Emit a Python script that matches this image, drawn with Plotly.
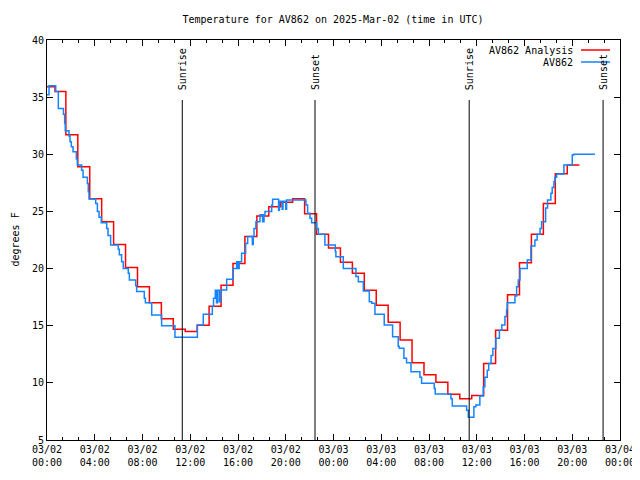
import pandas as pd
import plotly.graph_objects as go

# ---- data (hours after 2025-03-02 00:00 UTC, temperature degF) ----
start = "2025-03-02 00:00"
end = "2025-03-04 00:00"

red_hours = [0, 0.67, 1.58, 2.58, 3.58, 4.58, 5.58, 6.58, 7.58, 8.58, 9.58, 10.58,
             11.58, 12.58, 13.58, 14.58, 15.58, 16.58, 17.58, 18.58, 19.58, 20.58,
             21.58, 22.58, 23.58, 24.58, 25.58, 26.58, 27.58, 28.58, 29.58, 30.58,
             31.58, 32.58, 33.58, 34.58, 35.58, 36.58, 37.58, 38.58, 39.58, 40.58,
             41.58, 42.58, 43.58, 44.6]
red_temps = [35.9, 35.5, 31.7, 28.9, 26.1, 24.1, 22.1, 20.1, 18.4, 17.0, 15.6, 14.7,
             14.5, 15.05, 16.7, 18.55, 20.45, 22.8, 24.6, 25.4, 25.8, 26.1,
             24.8, 23.0, 21.8, 20.55, 19.6, 18.1, 16.8, 15.3, 13.75, 11.75,
             10.7, 10.05, 9.0, 8.6, 8.9, 11.7, 14.6, 17.7, 20.5, 23.0,
             25.7, 28.3, 29.06, 29.06]

blue_hours = [0.0, 0.17, 0.73, 0.95, 1.38, 1.48, 1.53, 1.84, 1.93, 2.04, 2.18, 2.46,
              2.54, 2.9, 3.02, 3.38, 3.46, 3.52, 4.08, 4.22, 4.36, 4.55, 5.0, 5.11,
              5.33, 5.97, 6.06, 6.17, 6.25, 6.39, 6.81, 6.9, 7.43, 7.51, 8.15, 8.24,
              8.77, 9.6, 10.72, 12.6, 13.09, 13.85, 13.95, 14.1, 14.2, 14.3, 14.45,
              14.55, 15.05, 15.6, 15.89, 15.98, 16.1, 16.3, 16.64, 16.81, 17.2, 17.28,
              17.34, 17.5, 17.84, 18.06, 18.18, 18.26, 18.82, 18.9, 19.4, 19.47, 19.7,
              19.77, 20.0, 20.07, 21.69, 21.83, 22.03, 22.17, 22.59, 22.73, 23.28,
              24.15, 24.2, 24.82, 25.88, 26.08, 26.5, 27.0, 27.2, 27.47, 28.25, 28.95,
              29.42, 29.5, 29.9, 30.12, 30.49, 31.24, 31.38, 32.44, 32.52, 33.84,
              33.95, 35.15, 35.29, 35.76, 35.93, 36.26, 36.54, 36.68, 36.88, 37.0,
              37.2, 37.35, 37.6, 37.9, 38.1, 38.36, 38.5, 38.55, 39.2, 39.34, 39.48,
              39.62, 40.23, 40.54, 40.87, 41.06, 41.3, 41.43, 41.77, 41.93, 42.21,
              42.32, 42.46, 42.55, 42.69, 43.3, 44.0, 44.14, 45.9]
blue_temps = [35.2, 36.0, 35.5, 34.0, 33.5, 32.7, 32.06, 31.6, 31.1, 30.67, 30.23, 29.58,
              29.06, 28.6, 28.0, 27.45, 26.73, 26.08, 25.7, 25.0, 24.5, 24.0, 23.5, 22.9,
              22.06, 21.7, 21.2, 21.2, 20.6, 20.0, 19.6, 19.0, 18.5, 18.0, 17.4, 17.0,
              15.94, 15.0, 14.0, 15.06, 16.0, 16.7, 17.4, 18.1, 17.0, 18.1, 17.1,
              18.12, 19.06, 20.0, 20.6, 20.0, 20.6, 21.34, 22.2, 22.8, 22.1, 22.8,
              23.5, 24.1, 24.7, 24.1, 24.7, 25.0, 25.56, 26.06, 25.1, 25.9, 25.2,
              25.9, 25.2, 26.0, 25.56, 24.83, 24.4, 24.0, 23.5, 23.0, 22.06,
              21.5, 21.04, 20.0, 19.3, 18.85, 18.04, 17.1, 16.96, 16.0, 15.06, 14.04,
              13.2, 13.02, 12.15, 11.77, 10.98, 10.5, 9.96, 9.5, 9.03, 8.6,
              7.98, 7.6, 7.0, 7.9, 8.06, 8.85, 9.66, 10.5, 11.1, 11.7,
              12.4, 13.0, 13.9, 14.6, 15.06, 15.8, 16.4, 17.0, 17.6, 18.4, 19.0,
              20.0, 20.75, 21.97, 22.5, 23.0, 23.5, 24.1, 25.3, 26.0, 26.6,
              27.1, 27.6, 28.0, 28.27, 29.06, 29.94, 30.0, 30.0]

sun_labels = ["Sunrise", "Sunset", "Sunrise", "Sunset"]
sun_times = ["2025-03-02 11:20", "2025-03-02 22:27", "2025-03-03 11:22", "2025-03-03 22:35"]

series_names = ["AV862 Analysis", "AV862"]
series_colors = ["#ff0000", "#1484ff"]

title_text = "Temperature for AV862 on 2025-Mar-02 (time in UTC)"
y_label = "degrees F"

# ---- build ----
base = pd.Timestamp(start)
red_x = base + pd.to_timedelta(red_hours, unit="h")
blue_x = base + pd.to_timedelta(blue_hours, unit="h")

FONT = "DejaVu Sans Mono"
fig = go.Figure()
fig.add_trace(go.Scatter(x=red_x, y=red_temps, mode="lines", line_shape="hv",
                         line=dict(color=series_colors[0], width=1.5),
                         name=series_names[0], showlegend=False))
fig.add_trace(go.Scatter(x=blue_x, y=blue_temps, mode="lines", line_shape="hv",
                         line=dict(color=series_colors[1], width=1.5),
                         name=series_names[1], showlegend=False))

shapes = []
annotations = []
for lab, t in zip(sun_labels, sun_times):
    shapes.append(dict(type="line", xref="x", yref="paper", x0=t, x1=t, y0=0, y1=0.85,
                       line=dict(color="black", width=1)))
    annotations.append(dict(text=lab, x=t, xref="x", y=0.87, yref="paper",
                            textangle=-90, xanchor="center", yanchor="bottom",
                            showarrow=False, font=dict(family=FONT, size=10, color="black")))

# gnuplot-style key: text, then line sample to the right
key_y = [0.975, 0.945]
for name, col, ky in zip(series_names, series_colors, key_y):
    annotations.append(dict(text=name, x=0.921, xref="paper", y=ky, yref="paper",
                            xanchor="right", yanchor="middle", showarrow=False,
                            font=dict(family=FONT, size=10, color="black")))
    shapes.append(dict(type="line", xref="paper", yref="paper", x0=0.932, x1=0.9825,
                       y0=ky, y1=ky, line=dict(color=col, width=1.5)))

annotations.append(dict(text=y_label, x=-39 / 573, xref="paper", y=0.5, yref="paper",
                        textangle=-90, xanchor="left", yanchor="middle", showarrow=False,
                        borderpad=0,
                        font=dict(family=FONT, size=10, color="black")))

fig.update_layout(
    width=640, height=480,
    margin=dict(l=39, r=28, t=32, b=48, autoexpand=False),
    paper_bgcolor="white", plot_bgcolor="white",
    font=dict(family=FONT, size=10, color="black"),
    title=dict(text=title_text, x=325 / 640, xref="container", y=1 - 11 / 480, yref="container",
               xanchor="center", yanchor="middle", font=dict(family=FONT, size=10)),
    shapes=shapes, annotations=annotations,
    showlegend=False,
)
fig.update_xaxes(type="date", range=[start, end], showgrid=False, zeroline=False,
                 automargin=False,
                 showline=True, linecolor="black", linewidth=1, mirror="ticks",
                 ticks="inside", ticklen=6, tickcolor="black", tickwidth=1,
                 dtick=4 * 3600 * 1000, tick0=start, tickformat="%m/%d<br>%H:%M",
                 minor=dict(dtick=80 * 60 * 1000, ticklen=3, tickcolor="black", ticks="inside", showgrid=False),
                 tickfont=dict(family=FONT, size=10, color="black"))
fig.update_yaxes(range=[5, 40], dtick=5, showgrid=False, zeroline=False,
                 automargin=False,
                 showline=True, linecolor="black", linewidth=1, mirror="ticks",
                 ticks="inside", ticklen=6, tickcolor="black", tickwidth=1,
                 tickfont=dict(family=FONT, size=10, color="black"))

fig.write_html("out.html")
